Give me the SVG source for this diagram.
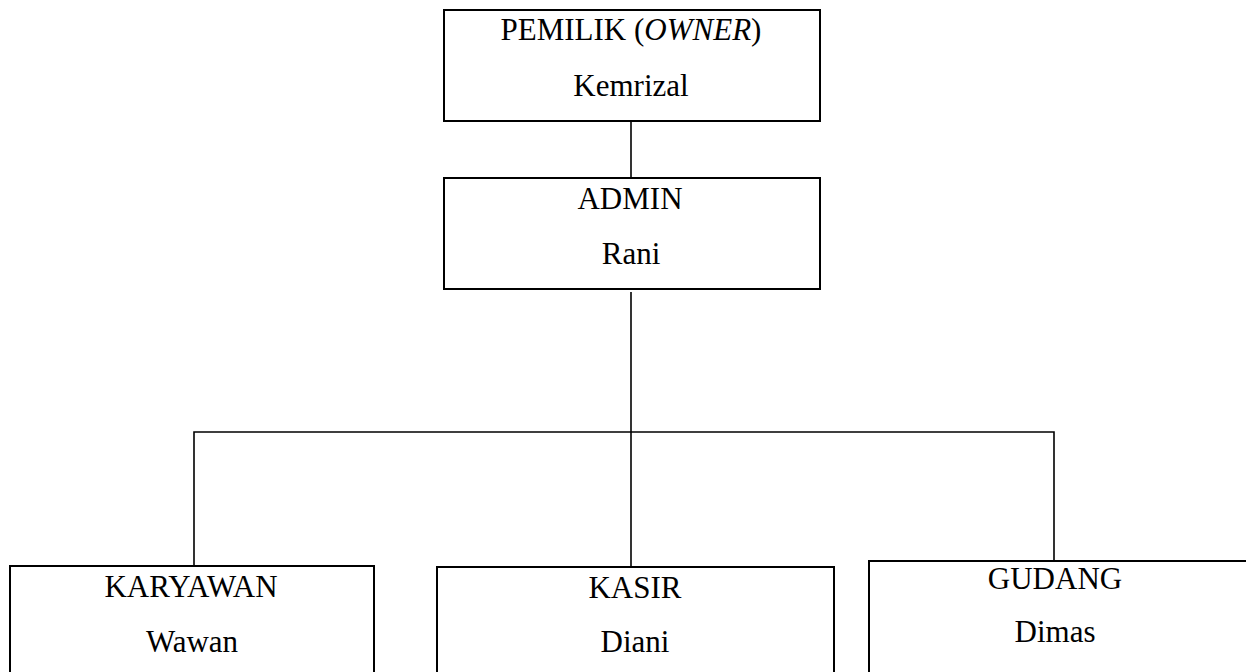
<svg xmlns="http://www.w3.org/2000/svg" width="1246" height="672" viewBox="0 0 1246 672">
<style>
.box{fill:#fff;stroke:#000;stroke-width:2}
.con{fill:none;stroke:#000;stroke-width:1.6}
.t{font-family:"Liberation Serif","Times New Roman",serif;font-size:31px;fill:#000;text-anchor:middle}
</style>
<rect width="1246" height="672" fill="#fff"/>
<g id="connectors">
<line class="con" x1="631" y1="121" x2="631" y2="178"/>
<line class="con" x1="631" y1="292" x2="631" y2="567"/>
<polyline class="con" points="194,566 194,432 1054,432 1054,561"/>
</g>
<g id="owner">
<rect class="box" x="444" y="10" width="376" height="111"/>
<text class="t" x="631" y="40">PEMILIK (<tspan font-style="italic">OWNER</tspan>)</text>
<text class="t" x="631" y="96">Kemrizal</text>
</g>
<g id="admin">
<rect class="box" x="444" y="178" width="376" height="111"/>
<text class="t" x="630" y="209">ADMIN</text>
<text class="t" x="631" y="264">Rani</text>
</g>
<g id="karyawan">
<rect class="box" x="10" y="566" width="364" height="120"/>
<text class="t" x="191" y="597">KARYAWAN</text>
<text class="t" x="192" y="652">Wawan</text>
</g>
<g id="kasir">
<rect class="box" x="437" y="567" width="397" height="120"/>
<text class="t" x="635" y="598">KASIR</text>
<text class="t" x="635" y="652">Diani</text>
</g>
<g id="gudang">
<rect class="box" x="869" y="561" width="400" height="125"/>
<text class="t" x="1055" y="589">GUDANG</text>
<text class="t" x="1055" y="642">Dimas</text>
</g>
</svg>
